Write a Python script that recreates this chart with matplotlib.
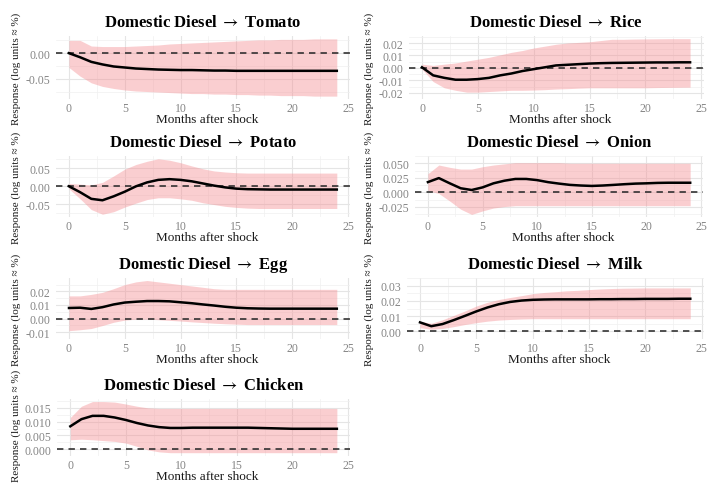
import matplotlib
matplotlib.use("Agg")
import matplotlib.pyplot as plt

plt.rcParams['font.family'] = ['Liberation Serif', 'DejaVu Serif']
plt.rcParams['mathtext.fontset'] = 'stix'

months = list(range(25))

# impulse responses (point estimate, lower and upper band)
tomato_irf = [0.000, -0.008, -0.017, -0.022, -0.026, -0.028, -0.030, -0.031, -0.032, -0.0325, -0.033, -0.033, -0.0335,
              -0.034, -0.034, -0.0345, -0.0345, -0.0345, -0.0345, -0.0345, -0.0345, -0.0345, -0.0345, -0.0345, -0.0345]
tomato_lo = [-0.028, -0.045, -0.058, -0.065, -0.069, -0.072, -0.074, -0.075, -0.076, -0.077, -0.078, -0.079, -0.079,
             -0.080, -0.080, -0.081, -0.081, -0.082, -0.082, -0.083, -0.083, -0.083, -0.084, -0.084, -0.084]
tomato_hi = [0.025, 0.025, 0.014, 0.013, 0.013, 0.013, 0.014, 0.015, 0.016, 0.018, 0.019, 0.020, 0.021,
             0.022, 0.023, 0.024, 0.025, 0.026, 0.026, 0.027, 0.027, 0.027, 0.028, 0.028, 0.028]

rice_irf = [0.0005, -0.006, -0.008, -0.0095, -0.0095, -0.009, -0.008, -0.006, -0.0045, -0.0025, -0.001, 0.0005, 0.002,
            0.0025, 0.003, 0.0035, 0.0038, 0.004, 0.0041, 0.0042, 0.0043, 0.0044, 0.0044, 0.0045, 0.0045]
rice_lo = [-0.001, -0.011, -0.016, -0.018, -0.0195, -0.0195, -0.019, -0.0185, -0.018, -0.018, -0.0178, -0.0175, -0.017,
           -0.0167, -0.0163, -0.016, -0.016, -0.016, -0.016, -0.016, -0.016, -0.0158, -0.0157, -0.0156, -0.0155]
rice_hi = [0.003, 0.002, 0.003, 0.004, 0.0055, 0.007, 0.0085, 0.0105, 0.0125, 0.014, 0.016, 0.0175, 0.019,
           0.020, 0.0205, 0.021, 0.022, 0.023, 0.023, 0.0232, 0.0233, 0.0234, 0.0235, 0.0235, 0.0235]

potato_irf = [0.0, -0.0165, -0.035, -0.039, -0.028, -0.015, 0.0, 0.011, 0.018, 0.020, 0.018, 0.014, 0.008,
              0.002, -0.003, -0.0065, -0.008, -0.0085, -0.009, -0.009, -0.009, -0.009, -0.009, -0.009, -0.009]
potato_lo = [-0.007, -0.035, -0.065, -0.078, -0.071, -0.058, -0.047, -0.037, -0.032, -0.032, -0.035, -0.039, -0.046,
             -0.051, -0.056, -0.059, -0.061, -0.062, -0.062, -0.062, -0.062, -0.062, -0.062, -0.062, -0.062]
potato_hi = [0.008, 0.006, 0.004, 0.011, 0.029, 0.048, 0.061, 0.070, 0.077, 0.073, 0.066, 0.057, 0.049,
             0.043, 0.040, 0.038, 0.037, 0.037, 0.037, 0.037, 0.037, 0.037, 0.037, 0.037, 0.037]

onion_irf = [0.0176, 0.0245, 0.0155, 0.007, 0.004, 0.0085, 0.0155, 0.020, 0.023, 0.023, 0.021, 0.0175, 0.015,
             0.0128, 0.0117, 0.011, 0.0117, 0.0128, 0.014, 0.015, 0.0155, 0.0162, 0.0165, 0.0165, 0.0165]
onion_lo = [0.003, -0.002, -0.015, -0.029, -0.038, -0.032, -0.027, -0.0245, -0.023, -0.023, -0.023, -0.023, -0.023,
            -0.023, -0.023, -0.023, -0.023, -0.023, -0.023, -0.023, -0.023, -0.023, -0.023, -0.023, -0.023]
onion_hi = [0.032, 0.047, 0.043, 0.040, 0.040, 0.044, 0.047, 0.049, 0.051, 0.051, 0.051, 0.051, 0.051,
            0.050, 0.050, 0.050, 0.050, 0.050, 0.050, 0.050, 0.050, 0.050, 0.050, 0.050, 0.050]

egg_irf = [0.0078, 0.008, 0.0071, 0.0084, 0.0104, 0.0118, 0.0124, 0.0129, 0.0129, 0.0127, 0.012, 0.0113, 0.0104,
           0.0096, 0.0087, 0.008, 0.0076, 0.0074, 0.0073, 0.0073, 0.0073, 0.0073, 0.0073, 0.0073, 0.0073]
egg_lo = [-0.0089, -0.0082, -0.0073, -0.0051, -0.0027, -0.0011, -0.0004, -0.0004, -0.0008, -0.0013, -0.0018, -0.0024,
          -0.0029, -0.0034, -0.0038, -0.0041, -0.0044, -0.0044, -0.0044, -0.0044, -0.0044, -0.0044, -0.0044, -0.0044,
          -0.0044]
egg_hi = [0.0167, 0.0167, 0.0178, 0.0193, 0.022, 0.025, 0.027, 0.028, 0.027, 0.026, 0.025, 0.024, 0.023,
          0.022, 0.0215, 0.0215, 0.0215, 0.0215, 0.0215, 0.0215, 0.0215, 0.0215, 0.0215, 0.0215, 0.0215]

milk_irf = [0.0059, 0.0034, 0.0048, 0.0074, 0.0102, 0.0131, 0.0157, 0.0178, 0.0193, 0.0202, 0.0207, 0.0209, 0.021,
            0.021, 0.021, 0.021, 0.0211, 0.0211, 0.0212, 0.0212, 0.0213, 0.0213, 0.0213, 0.0214, 0.0214]
milk_lo = [0.0024, 0.0014, 0.0019, 0.0031, 0.0045, 0.0057, 0.0067, 0.0074, 0.0078, 0.0081, 0.0083, 0.0083, 0.0083,
           0.0083, 0.0083, 0.0083, 0.0083, 0.0083, 0.0083, 0.0083, 0.0083, 0.0083, 0.0083, 0.0083, 0.0083]
milk_hi = [0.0066, 0.0053, 0.0076, 0.0105, 0.0134, 0.0166, 0.0191, 0.0209, 0.0222, 0.0234, 0.0247, 0.0255, 0.026,
           0.0266, 0.0269, 0.0274, 0.0278, 0.0281, 0.0283, 0.0284, 0.0285, 0.0285, 0.0285, 0.0285, 0.0285]

chicken_irf = [0.0083, 0.0109, 0.0121, 0.0121, 0.0115, 0.0106, 0.0095, 0.0086, 0.008, 0.0077, 0.0077, 0.0078, 0.0078,
               0.0078, 0.0078, 0.0078, 0.0078, 0.0077, 0.0076, 0.0075, 0.0074, 0.0074, 0.0074, 0.0074, 0.0074]
chicken_lo = [0.0034, 0.0036, 0.0034, 0.0031, 0.0028, 0.0022, 0.001, -0.0003, -0.001, -0.0013, -0.0013, -0.0013,
              -0.0013, -0.0013, -0.0013, -0.0013, -0.0013, -0.0013, -0.0013, -0.0013, -0.0013, -0.0013, -0.0013,
              -0.0013, -0.0013]
chicken_hi = [0.0115, 0.0156, 0.0173, 0.0173, 0.0171, 0.0164, 0.0156, 0.015, 0.0148, 0.0148, 0.0148, 0.0148, 0.0148,
              0.0148, 0.0148, 0.0148, 0.0148, 0.0148, 0.0148, 0.0148, 0.0148, 0.0148, 0.0148, 0.0148, 0.0148]

x_ticks = [0, 5, 10, 15, 20, 25]
tomato_yticks = [-0.05, 0.00]
rice_yticks = [-0.02, -0.01, 0.00, 0.01, 0.02]
potato_yticks = [-0.05, 0.00, 0.05]
onion_yticks = [-0.025, 0.000, 0.025, 0.050]
egg_yticks = [-0.01, 0.00, 0.01, 0.02]
milk_yticks = [0.00, 0.01, 0.02, 0.03]
chicken_yticks = [0.000, 0.005, 0.010, 0.015]

W, H = 707, 485
fig = plt.figure(figsize=(W / 100, H / 100), dpi=100)
fig.patch.set_facecolor('white')


def draw_panel(box, ylab_x, title, irf, lo, hi, yticks, fmt):
    # box = panel left, top, right, bottom in pixels
    l, t, r, b = box
    ax = fig.add_axes([l / W, 1 - b / H, (r - l) / W, (b - t) / H])
    ax.fill_between(months, lo, hi, color=(0.96, 0.55, 0.57), alpha=0.42, lw=0, zorder=2)
    ax.axhline(0, color='#2b2b2b', lw=1.15, ls=(0, (4, 3.2)), zorder=3)
    ax.plot(months, irf, color='black', lw=1.8, zorder=4)

    ax.set_xlim(-1.2, 25.2)
    ymin = min(min(lo), 0)
    ymax = max(max(hi), 0)
    pad = 0.05 * (ymax - ymin)
    ax.set_ylim(ymin - pad, ymax + pad)

    ax.set_xticks(x_ticks)
    ax.set_xticks([v + 2.5 for v in x_ticks[:-1]], minor=True)
    ax.set_yticks(yticks)
    step = yticks[1] - yticks[0]
    ax.set_yticks([yticks[0] - step / 2] + [v + step / 2 for v in yticks], minor=True)
    ax.set_yticklabels([fmt % v for v in yticks])

    ax.grid(which='major', color='#e5e5e5', lw=0.8)
    ax.grid(which='minor', color='#f0f0f0', lw=0.5)
    ax.set_axisbelow(True)
    for s in ax.spines.values():
        s.set_visible(False)
    ax.tick_params(which='both', length=0)
    ax.tick_params(axis='x', labelsize=8.5, labelcolor='#858585', pad=2.5)
    ax.tick_params(axis='y', labelsize=8.5, labelcolor='#858585', pad=4)

    cx = (l + r) / 2
    fig.text(cx / W, 1 - (t - 14) / H, 'Domestic Diesel $\\rightarrow$ ' + title, ha='center', va='center',
             fontsize=12, fontweight='bold', color='black')
    fig.text((cx + 4) / W, 1 - (b + 20) / H, 'Months after shock', ha='center', va='center',
             fontsize=9.5, color='#1a1a1a')
    fig.text(ylab_x / W, 1 - min((t + b) / 2, 426) / H, 'Response (log units ≈ %)', rotation=90,
             ha='center', va='center', fontsize=8, color='#1a1a1a')


draw_panel((55.6, 37, 350.2, 100), 16, 'Tomato',
           tomato_irf, tomato_lo, tomato_hi, tomato_yticks, '%.2f')
draw_panel((408.6, 37, 703.5, 100), 369, 'Rice',
           rice_irf, rice_lo, rice_hi, rice_yticks, '%.2f')
draw_panel((55.6, 157, 350.2, 218), 16, 'Potato',
           potato_irf, potato_lo, potato_hi, potato_yticks, '%.2f')
draw_panel((414.8, 157, 703.3, 218), 369, 'Onion',
           onion_irf, onion_lo, onion_hi, onion_yticks, '%.3f')
draw_panel((55.6, 279, 350.2, 340), 16, 'Egg',
           egg_irf, egg_lo, egg_hi, egg_yticks, '%.2f')
draw_panel((406.5, 279, 703.8, 340), 369, 'Milk',
           milk_irf, milk_lo, milk_hi, milk_yticks, '%.2f')
draw_panel((57.0, 400, 350.2, 457), 16, 'Chicken',
           chicken_irf, chicken_lo, chicken_hi, chicken_yticks, '%.3f')

fig.savefig('out.png', dpi=100)
